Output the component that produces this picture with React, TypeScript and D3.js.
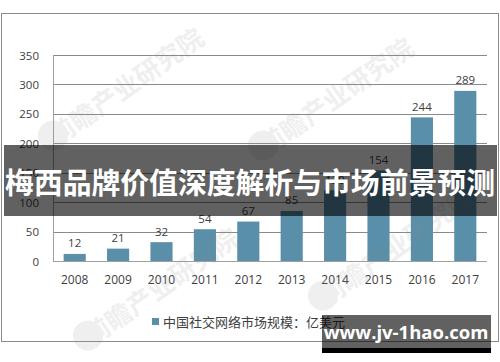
import React from "react";
import * as d3 from "d3";

const years = ["2008", "2009", "2010", "2011", "2012", "2013", "2014", "2015", "2016", "2017"];
const values = [12, 21, 32, 54, 67, 85, 120, 154, 244, 289];
const yTicks = [0, 50, 100, 150, 200, 250, 300, 350];
const legendLabel = "中国社交网络市场规模：亿美元";
const bannerTitle = "梅西品牌价值深度解析与市场前景预测";
const siteUrl = "www.jv-1hao.com";
const watermark = "前瞻产业研究院";

const W = 500;
const H = 362;
const plot = { left: 53, right: 487, top: 55, bottom: 261 };
const barColor = "#5a8faa";
const textColor = "#404040";
const latin = "'Open Sans', 'Liberation Sans', sans-serif";
const cjk = "'Noto Sans CJK SC', sans-serif";

export default function App() {
  const x = d3
    .scaleBand<string>()
    .domain(years)
    .range([plot.left, plot.right])
    .paddingInner(0.49)
    .paddingOuter(0.245);
  const y = d3.scaleLinear().domain([0, 350]).range([plot.bottom, plot.top]);

  const wms = [
    { cx: 125, cy: 85 },
    { cx: 335, cy: 95 },
    { cx: 160, cy: 285 },
    { cx: 395, cy: 245 },
  ];

  return (
    <svg
      width={W}
      height={H}
      viewBox={`0 0 ${W} ${H}`}
      style={{ position: "absolute", left: 0, top: 0, background: "#fff" }}
    >
      <rect x={0} y={0} width={W} height={H} fill="#fff" />
      {/* chart frame */}
      <rect x={1.5} y={13.5} width={497} height={328} fill="#fff" stroke="#8c8c8c" strokeWidth={1} />

      {/* gridlines */}
      {yTicks.map((t) => (
        <line
          key={t}
          x1={plot.left}
          x2={plot.right}
          y1={Math.round(y(t)) + 0.5}
          y2={Math.round(y(t)) + 0.5}
          stroke={t === 0 ? "#a0a0a0" : "#8a8a8a"}
          strokeWidth={1}
        />
      ))}
      <line
        x1={plot.left + 0.5}
        x2={plot.left + 0.5}
        y1={y(350)}
        y2={y(0)}
        stroke="#a0a0a0"
        strokeWidth={1}
      />

      {/* y tick labels */}
      {yTicks.map((t) => (
        <text
          key={t}
          x={39}
          y={y(t)}
          textAnchor="end"
          dominantBaseline="central"
          fontFamily={latin}
          fontSize={11.5}
          fill={textColor}
        >
          {t}
        </text>
      ))}

      {/* bars */}
      {years.map((yr, i) => (
        <rect
          key={yr}
          x={x(yr)}
          y={y(values[i])}
          width={x.bandwidth()}
          height={y(0) - y(values[i])}
          fill={barColor}
        />
      ))}

      {/* value labels */}
      {years.map((yr, i) => (
        <text
          key={yr}
          x={(x(yr) as number) + x.bandwidth() / 2}
          y={y(values[i]) - 11}
          textAnchor="middle"
          dominantBaseline="central"
          fontFamily={latin}
          fontSize={11.5}
          fill={textColor}
        >
          {values[i]}
        </text>
      ))}

      {/* x labels */}
      {years.map((yr) => (
        <text
          key={yr}
          x={(x(yr) as number) + x.bandwidth() / 2}
          y={279}
          textAnchor="middle"
          dominantBaseline="central"
          fontFamily={latin}
          fontSize={12}
          fill={textColor}
        >
          {yr}
        </text>
      ))}

      {/* legend */}
      <rect x={152} y={318} width={7} height={7} fill={barColor} />
      <text
        x={163}
        y={321.5}
        dominantBaseline="central"
        fontFamily={cjk}
        fontSize={13}
        fill={textColor}
      >
        {legendLabel}
      </text>

      {/* faint watermarks */}
      {wms.map((w, i) => (
        <g key={i} transform={`translate(${w.cx},${w.cy}) rotate(-35)`} opacity={0.13}>
          <circle cx={-88} cy={0} r={15} fill="#8a8a8a" />
          <text
            x={0}
            y={0}
            textAnchor="middle"
            dominantBaseline="central"
            fontFamily={cjk}
            fontWeight={700}
            fontSize={26}
            fill="#8a8a8a"
          >
            {watermark}
          </text>
        </g>
      ))}

      {/* banner */}
      <rect x={4} y={145} width={493} height={71} fill="rgba(0,0,0,0.62)" />
      <text
        x={250}
        y={181}
        textAnchor="middle"
        dominantBaseline="central"
        fontFamily={cjk}
        fontWeight={700}
        fontSize={29}
        fill="#fff"
        textLength={490}
        lengthAdjust="spacingAndGlyphs"
      >
        {bannerTitle}
      </text>

      {/* url badge */}
      <rect x={322} y={315} width={169} height={33} fill="rgba(0,0,0,0.62)" />
      <rect x={322} y={348} width={169} height={5} fill="#000" />
      <text
        x={406}
        y={331}
        textAnchor="middle"
        dominantBaseline="central"
        fontFamily="'Open Sans', 'DejaVu Sans', sans-serif"
        fontWeight={700}
        fontSize={18.5}
        fill="#fff"
      >
        {siteUrl}
      </text>
    </svg>
  );
}
